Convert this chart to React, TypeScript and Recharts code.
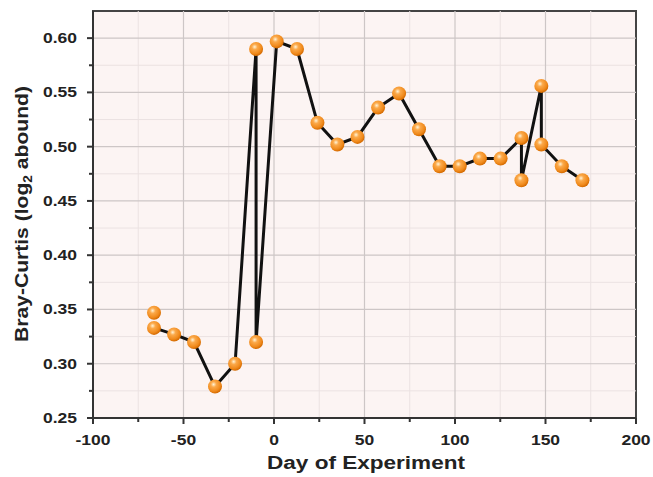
import { ScatterChart, Scatter, XAxis, YAxis, ReferenceArea, ReferenceLine, Label } from 'recharts';

// sampling days and Bray-Curtis values, in drawing order of the connecting line
const days = [-66.3, -55.2, -44.2, -32.6, -21.5, -9.9, -9.9, 1.5, 12.7, 24, 35, 46.1, 57.5, 69.1, 80.1, 91.5, 102.6, 113.8, 125.2, 136.7, 136.7, 147.7, 147.7, 159, 170.4];
const bray = [0.333, 0.327, 0.32, 0.279, 0.3, 0.59, 0.32, 0.597, 0.59, 0.522, 0.502, 0.509, 0.536, 0.549, 0.516, 0.482, 0.482, 0.489, 0.489, 0.508, 0.469, 0.556, 0.502, 0.482, 0.469];

// extra point not joined to the line
const extraDays = [-66.3];
const extraBray = [0.347];

const xMajor = [-100, -50, 0, 50, 100, 150, 200];
const xMinor = [-75, -25, 25, 75, 125, 175];
const yMajor = [0.25, 0.3, 0.35, 0.4, 0.45, 0.5, 0.55, 0.6];
const yMinor = [0.275, 0.325, 0.375, 0.425, 0.475, 0.525, 0.575, 0.625];

const mainData = days.map((d, i) => ({ day: d, value: bray[i] }));
const extraData = extraDays.map((d, i) => ({ day: d, value: extraBray[i] }));

const FONT = '"Liberation Sans", Arial, sans-serif';
const AXIS = '#333';

const isMajorX = (v: number) => xMajor.includes(v);
const isMajorY = (v: number) => yMajor.some((m) => Math.abs(m - v) < 1e-6);

function XTick(props: any) {
  const { x, y, payload } = props;
  const major = isMajorX(payload.value);
  return (
    <g>
      <line x1={x} x2={x} y1={y} y2={y + (major ? 6 : 4)} stroke={AXIS} strokeWidth={2} />
      {major && (
        <text transform={`translate(${x},${y + 27}) scale(1.25,1)`} textAnchor="middle" fontFamily={FONT} fontWeight="bold" fontSize={14} fill="#222">
          {payload.value}
        </text>
      )}
    </g>
  );
}

function YTick(props: any) {
  const { x, y, payload } = props;
  const v = payload.value;
  const major = isMajorY(v);
  if (v > 0.62) return null;
  return (
    <g>
      <line x1={x} x2={x - (major ? 6 : 4)} y1={y} y2={y} stroke={AXIS} strokeWidth={2} />
      {major && (
        <text transform={`translate(${x - 16},${y + 5}) scale(1.25,1)`} textAnchor="end" fontFamily={FONT} fontWeight="bold" fontSize={14} fill="#222">
          {v.toFixed(2)}
        </text>
      )}
    </g>
  );
}

function Ball(props: any) {
  const { cx, cy } = props;
  if (cx == null || cy == null) return null;
  return <circle cx={cx} cy={cy} r={7} fill="url(#ballGrad)" />;
}

export default function App() {
  return (
    <div style={{ position: 'absolute', left: 0, top: 0, background: '#fff' }}>
      <ScatterChart width={653} height={477} margin={{ top: 11, right: 17, bottom: 0, left: 0 }}>
        <defs>
          <radialGradient id="ballGrad" cx="40%" cy="35%" r="65%">
            <stop offset="0%" stopColor="#fff3d6" />
            <stop offset="30%" stopColor="#fba94a" />
            <stop offset="75%" stopColor="#f08a1c" />
            <stop offset="100%" stopColor="#d46a00" />
          </radialGradient>
        </defs>
        <ReferenceArea x1={-100} x2={200} y1={0.25} y2={0.625} fill="#fcf4f3" fillOpacity={1} stroke="#444" strokeWidth={2} />
        {xMinor.map((v) => (
          <ReferenceLine key={`xm${v}`} x={v} stroke="#ebe2e2" strokeWidth={1} />
        ))}
        {yMinor.filter((v) => v < 0.62).map((v) => (
          <ReferenceLine key={`ym${v}`} y={v} stroke="#ebe2e2" strokeWidth={1} />
        ))}
        {xMajor.filter((v) => v > -100 && v < 200).map((v) => (
          <ReferenceLine key={`xM${v}`} x={v} stroke="#cdc6c6" strokeWidth={1.2} />
        ))}
        {yMajor.filter((v) => v > 0.25).map((v) => (
          <ReferenceLine key={`yM${v}`} y={v} stroke="#cdc6c6" strokeWidth={1.2} />
        ))}
        <XAxis
          type="number"
          dataKey="day"
          domain={[-100, 200]}
          ticks={[...xMajor, ...xMinor].sort((a, b) => a - b)}
          tick={<XTick />}
          tickLine={false}
          tickSize={0}
          tickMargin={0}
          axisLine={{ stroke: AXIS, strokeWidth: 2 }}
          height={59}
          interval={0}
          allowDataOverflow
        >
          <Label
            content={() => (
              <text x={366} y={469} textAnchor="middle" fontFamily={FONT} fontWeight="bold" fontSize={18} fill="#222" textLength={198} lengthAdjust="spacingAndGlyphs">
                Day of Experiment
              </text>
            )}
          />
        </XAxis>
        <YAxis
          type="number"
          dataKey="value"
          domain={[0.25, 0.625]}
          ticks={[...yMajor, ...yMinor].sort((a, b) => a - b)}
          tick={<YTick />}
          tickLine={false}
          tickSize={0}
          tickMargin={0}
          axisLine={{ stroke: AXIS, strokeWidth: 2 }}
          width={93}
          interval={0}
          allowDataOverflow
        >
          <Label
            content={() => (
              <text transform="translate(28,214) rotate(-90)" x={0} y={0} textAnchor="middle" fontFamily={FONT} fontWeight="bold" fontSize={18.5} fill="#222" textLength={256} lengthAdjust="spacingAndGlyphs">
                Bray-Curtis (log<tspan fontSize={12} dy={4}>2</tspan><tspan dy={-4}> abound)</tspan>
              </text>
            )}
          />
        </YAxis>
        <Scatter data={mainData} line={{ stroke: '#111', strokeWidth: 3 }} lineType="joint" shape={<Ball />} isAnimationActive={false} />
        <Scatter data={extraData} shape={<Ball />} isAnimationActive={false} />
      </ScatterChart>
    </div>
  );
}
